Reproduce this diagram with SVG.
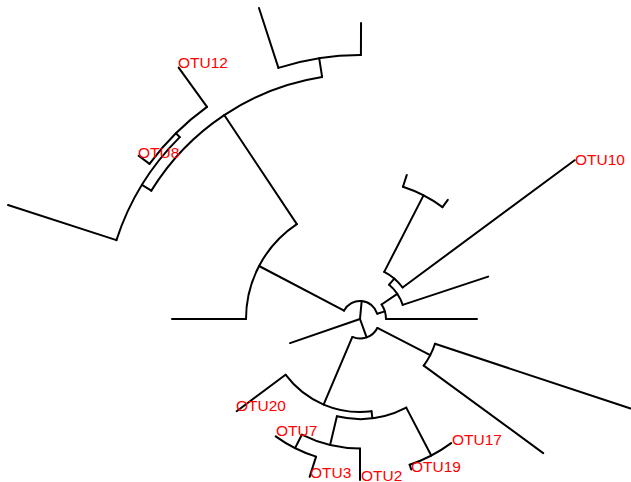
<svg xmlns="http://www.w3.org/2000/svg" width="631" height="482" viewBox="0 0 631 482">
<style>
.e{fill:none;stroke:#000;stroke-width:2;stroke-linecap:round;stroke-linejoin:round}
.t{font-family:"Liberation Sans",Arial,sans-serif;font-size:15.5px;fill:#FF0000}
</style>
<rect width="631" height="482" fill="#fff"/>
<g id="connectors" class="e">
<path d="M360,319 L361.68,301.08"/>
<path d="M360,319 L366.62,337.34"/>
<path d="M360,319 L290.03,343.09"/>
<path d="M344.06,310.63 L259.06,266.01"/>
<path d="M377.22,313.74 L384.87,311.4"/>
<path d="M246,319 L172,319"/>
<path d="M296.82,224.11 L224.22,115.06"/>
<path d="M151.33,190.62 L141.96,184.86"/>
<path d="M322.1,76.94 L319.16,58.17"/>
<path d="M116.44,240.15 L7.98,205.04"/>
<path d="M179.8,137.16 L175.93,133.26"/>
<path d="M149.52,163.83 L138.65,155.81"/>
<path d="M207.02,106.9 L178.65,67.56"/>
<path d="M278.42,67.91 L258.96,7.99"/>
<path d="M360.92,55 L361.04,23"/>
<path d="M386,319 L477,319"/>
<path d="M381.56,304.47 L397.31,293.85"/>
<path d="M402.72,304.87 L488.17,276.61"/>
<path d="M389.15,284.71 L394.33,278.61"/>
<path d="M402.61,287.48 L574.64,160.19"/>
<path d="M384.23,271.86 L423.54,195.37"/>
<path d="M402.95,186.8 L406.81,174.91"/>
<path d="M442.48,207.12 L447.82,199.87"/>
<path d="M377.34,327.93 L430.23,355.17"/>
<path d="M352.37,336.94 L323.6,404.58"/>
<path d="M435,343.81 L630.58,408.49"/>
<path d="M423.75,365.66 L543.19,453.07"/>
<path d="M285.53,374.71 L236.69,411.25"/>
<path d="M371.53,411.28 L372.4,418.23"/>
<path d="M406.25,407.66 L431.23,455.54"/>
<path d="M336.91,416.3 L330.1,445"/>
<path d="M360,448.5 L360,480"/>
<path d="M301.82,434.7 L295.08,448.1"/>
<path d="M316.07,456.67 L309.63,476.86"/>
<path d="M409.63,464.78 L411.25,469.51"/>
</g>
<g id="node-U" class="e"><path d="M344.06,310.63 A18,18 0 0 1 377.22,313.74"/></g>
<g id="node-L" class="e"><path d="M377.34,327.93 A19.5,19.5 0 0 1 352.37,336.94"/></g>
<g id="node-A" class="e"><path d="M246,319 A114,114 0 0 1 296.82,224.11"/></g>
<g id="node-B" class="e"><path d="M151.33,190.62 A245,245 0 0 1 322.1,76.94"/></g>
<g id="node-E" class="e"><path d="M116.44,240.15 A256,256 0 0 1 179.8,137.16"/></g>
<g id="node-F" class="e"><path d="M149.52,163.83 A261.5,261.5 0 0 1 207.02,106.9"/></g>
<g id="node-D" class="e"><path d="M278.42,67.91 A264,264 0 0 1 360.92,55"/></g>
<g id="node-V" class="e"><path d="M381.56,304.47 A26,26 0 0 1 386,319"/></g>
<g id="node-N" class="e"><path d="M389.15,284.71 A45,45 0 0 1 402.72,304.87"/></g>
<g id="node-M" class="e"><path d="M384.23,271.86 A53,53 0 0 1 402.61,287.48"/></g>
<g id="node-W" class="e"><path d="M402.95,186.8 A139,139 0 0 1 442.48,207.12"/></g>
<g id="node-X" class="e"><path d="M435,343.81 A79,79 0 0 1 423.75,365.66"/></g>
<g id="node-H" class="e"><path d="M371.53,411.28 A93,93 0 0 1 285.53,374.71"/></g>
<g id="node-I" class="e"><path d="M406.25,407.66 A100,100 0 0 1 336.91,416.3"/></g>
<g id="node-J" class="e"><path d="M360,448.5 A129.5,129.5 0 0 1 301.82,434.7"/></g>
<g id="node-K" class="e"><path d="M316.07,456.67 A144.5,144.5 0 0 1 275.68,436.35"/></g>
<g id="node-L2" class="e"><path d="M451.17,443.11 A154,154 0 0 1 409.63,464.78"/></g>
<g id="tip-OTU10"><text class="t" x="575" y="165">OTU10</text></g>
<g id="tip-OTU12"><text class="t" x="178" y="68">OTU12</text></g>
<g id="tip-OTU8"><text class="t" x="138" y="158">OTU8</text></g>
<g id="tip-OTU20"><text class="t" x="236" y="411">OTU20</text></g>
<g id="tip-OTU7"><text class="t" x="276" y="436">OTU7</text></g>
<g id="tip-OTU3"><text class="t" x="310" y="478">OTU3</text></g>
<g id="tip-OTU2"><text class="t" x="361" y="480.5">OTU2</text></g>
<g id="tip-OTU19"><text class="t" x="411" y="472">OTU19</text></g>
<g id="tip-OTU17"><text class="t" x="452" y="445">OTU17</text></g>
</svg>
